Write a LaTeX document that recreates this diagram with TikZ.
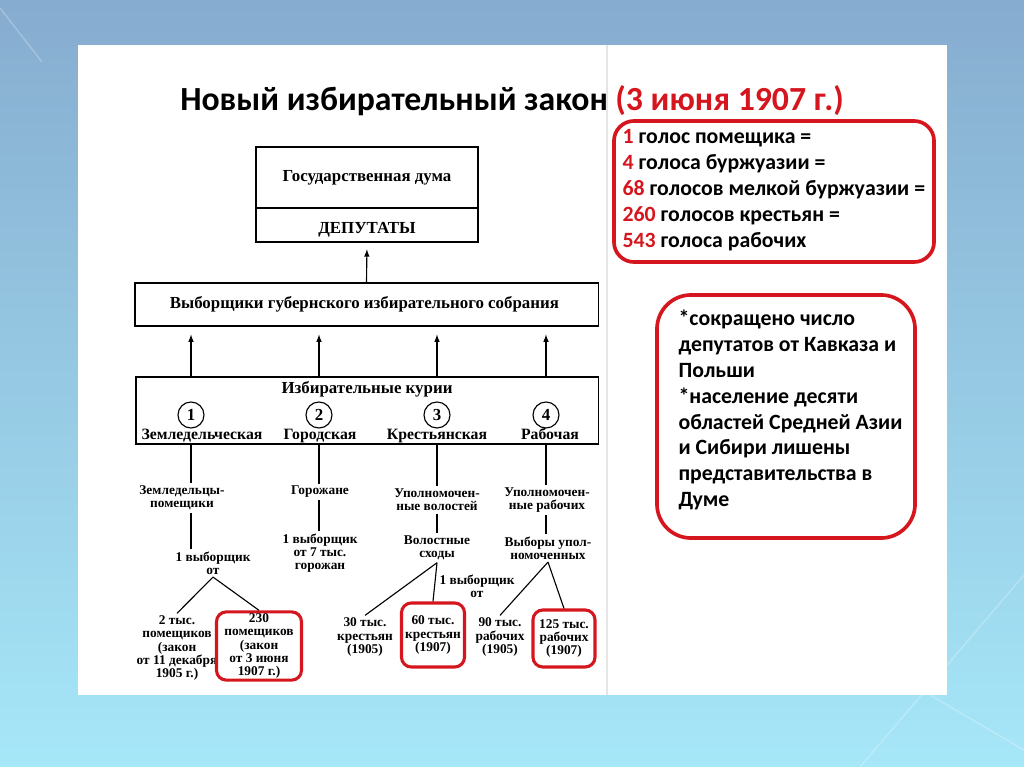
\documentclass[tikz,border=0pt]{standalone}
\usepackage{fontspec}
\setmainfont{Liberation Serif}
\newfontfamily\slidefont{Carlito}
\usetikzlibrary{shapes,calc}
\definecolor{slidered}{RGB}{214,22,30}
\definecolor{bgtop}{RGB}{134,172,207}
\definecolor{bgbot}{RGB}{166,231,248}

\begin{document}
\begin{tikzpicture}[x=0.025cm,y=-0.025cm,>=latex,line width=0.8pt,
  scan/.style={font=\bfseries\fontsize{12}{13}\selectfont,align=center,inner sep=1pt},
  kur/.style={font=\bfseries\fontsize{11.2}{12}\selectfont,inner sep=1pt,text height=1.6ex,text depth=0.45ex},
  small/.style={font=\bfseries\fontsize{9.5}{9.3}\selectfont,align=center,inner sep=1.5pt},
  num/.style={circle,draw,minimum size=0.65cm,inner sep=0pt,font=\bfseries\fontsize{12}{13}\selectfont},
  redbox/.style={draw=slidered,line width=2.2pt,rounded corners=7pt},
  note/.style={font=\slidefont\bfseries\fontsize{15.5}{18.4}\selectfont,align=left,anchor=west,inner sep=0pt}]
  \useasboundingbox (0,0) rectangle (1024,767);
  \shade[top color=bgtop,bottom color=bgbot] (0,0) rectangle (1024,767);
  \draw[white,opacity=0.25,line width=1pt] (0,8) -- (42,62);
  \draw[white,opacity=0.25,line width=1pt] (1024,575) -- (860,767);
  \draw[white,opacity=0.25,line width=1pt] (930,695) -- (1024,750);
  \fill[white] (78,45) rectangle (947,695);
  \draw[black!10] (607,45) -- (607,695);

  \node[font=\slidefont\bfseries\fontsize{24}{28}\selectfont,anchor=west] (T) at (175,101) {
    Новый избирательный закон \textcolor{slidered}{(3 июня 1907 г.)}
  };

  %% top of the scheme
  \node[draw,minimum width=5.55cm,minimum height=2.375cm] (Duma) at (367,194.5) {};
  \draw ($(Duma.north west)!0.64!(Duma.south west)$) -- ($(Duma.north east)!0.64!(Duma.south east)$);
  \node[scan] (DumaT) at (367,178) {Государственная дума};
  \node[scan] (Dep) at (367,230) {ДЕПУТАТЫ};
  \node[draw,scan,minimum width=11.575cm,minimum height=1.075cm] (Vyb) at (366.5,304.5) {
    Выборщики губернского избирательного собрания
  };
  \node[draw,minimum width=11.55cm,minimum height=1.675cm] (Kur) at (367,410.5) {};
  \node[scan] (KurT) at (367,389) {Избирательные курии};
  \node[num] (N1) at (191,415) {1};
  \node[num] (N2) at (319,415) {2};
  \node[num] (N3) at (437,415) {3};
  \node[num] (N4) at (546,415) {4};
  \node[kur] (K1) at (202,436) {Земледельческая};
  \node[kur] (K2) at (320,436) {Городская};
  \node[kur] (K3) at (437,436) {Крестьянская};
  \node[kur] (K4) at (550,436) {Рабочая};

  %% curia 1
  \node[small] (Z1) at (182,498) {Земледельцы-\\помещики};
  \node[small] (Z2) at (213,563) {1 выборщик\\от};
  \node[small] (Z3) at (177,648) {2 тыс.\\помещиков\\(закон\\от 11 декабря\\1905 г.)};
  \node[small,redbox,minimum width=2.125cm,minimum height=1.7cm] (Z4) at (259,646) {
    230\\помещиков\\(закон\\от 3 июня\\1907 г.)
  };
  %% curia 2
  \node[small] (G1) at (320,492) {Горожане};
  \node[small] (G2) at (320,553) {1 выборщик\\от 7 тыс.\\горожан};
  %% curia 3
  \node[small] (C1) at (437,500) {Уполномочен-\\ные волостей};
  \node[small] (C2) at (437,548) {Волостные\\сходы};
  \node[small] (C3) at (365,637) {30 тыс.\\крестьян\\(1905)};
  \node[small,redbox,minimum width=1.575cm,minimum height=1.6cm] (C4) at (433,635) {
    60 тыс.\\крестьян\\(1907)
  };
  \node[small] (C5) at (477,586) {1 выборщик\\от};
  %% curia 4
  \node[small] (R1) at (547,500) {Уполномочен-\\ные рабочих};
  \node[small] (R2) at (548,548) {Выборы упол-\\номоченных};
  \node[small] (R3) at (500,637) {90 тыс.\\рабочих\\(1905)};
  \node[small,redbox,minimum width=1.55cm,minimum height=1.425cm] (R4) at (564,638.5) {
    125 тыс.\\рабочих\\(1907)
  };

  \path[->,shorten >=0.17cm] (Vyb.north) edge (Duma.south);
  \path[->,shorten >=0.2cm] (N1 |- Kur.north) edge (N1 |- Vyb.south)
    (N2 |- Kur.north) edge (N2 |- Vyb.south)
    (N3 |- Kur.north) edge (N3 |- Vyb.south)
    (N4 |- Kur.north) edge (N4 |- Vyb.south);
  \path (N1 |- Kur.south) edge (N1 |- Z1.north) (N1 |- Z1.south) edge (N1 |- Z2.north)
    (Z2.south) edge (Z3.north) (Z2.south) edge (Z4.north);
  \path (N2 |- Kur.south) edge (N2 |- G1.north) (N2 |- G1.south) edge (N2 |- G2.north);
  \path (N3 |- Kur.south) edge (N3 |- C1.north) (N3 |- C1.south) edge (N3 |- C2.north)
    (C2.south) edge (C3.north) (C2.south) edge (C4.north);
  \path (N4 |- Kur.south) edge (N4 |- R1.north) (N4 |- R1.south) edge (N4 |- R2.north)
    (R2.south) edge (R3.north) (R2.south) edge (R4.north);

  %% notes on the right
  \node[redbox,line width=2.6pt,rounded corners=0.5cm,minimum width=8cm,minimum height=3.525cm] (Votes) at (774,191.5) {};
  \node[note] (VotesT) at (622,190) {
    \textcolor{slidered}{1} голос помещика =\\
    \textcolor{slidered}{4} голоса буржуазии =\\
    \textcolor{slidered}{68} голосов мелкой буржуазии =\\
    \textcolor{slidered}{260} голосов крестьян =\\
    \textcolor{slidered}{543} голоса рабочих
  };
  \node[redbox,line width=2.6pt,rounded corners=0.85cm,minimum width=6.45cm,minimum height=6.075cm] (Notes) at (786,416.5) {};
  \node[note] (NotesT) at (678,410) {
    *сокращено число\\
    депутатов от Кавказа и\\
    Польши\\
    *население десяти\\
    областей Средней Азии\\
    и Сибири лишены\\
    представительства в\\
    Думе
  };
\end{tikzpicture}
\end{document}
